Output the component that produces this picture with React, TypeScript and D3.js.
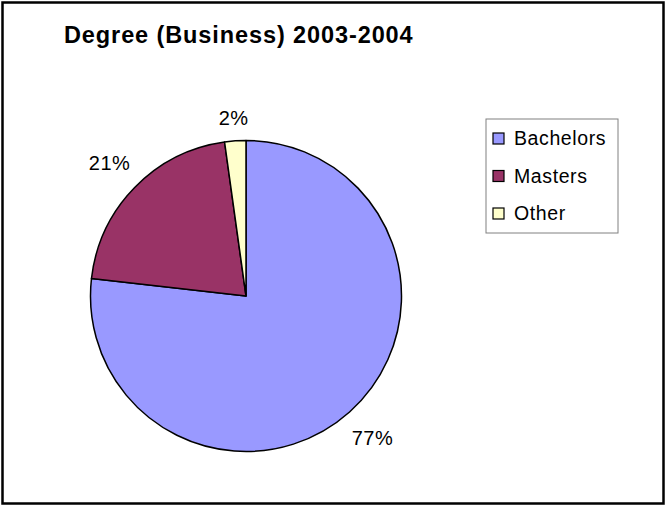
import React from "react";
import * as d3 from "d3";

const categories = ["Bachelors", "Masters", "Other"];
const values = [76.8, 21.0, 2.2];
const labels = ["77%", "21%", "2%"];
const colors = ["#9999FF", "#993366", "#FFFFCC"];
const title = "Degree (Business) 2003-2004";

const W = 665;
const H = 506;

export default function App() {
  const cx = 246;
  const cy = 296;
  const r = 155.5;
  const labelFont = 20;
  const data = categories.map((c, i) => ({ name: c, value: values[i], label: labels[i], color: colors[i] }));
  const pie = d3.pie<any>().value((d) => d.value).sort(null).startAngle(0).endAngle(2 * Math.PI);
  const arcs = pie(data);
  const arc = d3.arc<any>().innerRadius(0).outerRadius(r);
  const legendX = 486;
  const legendY = 119;
  const rowH = 37.5;

  const labelPos = (a: any) => {
    const mid = (a.startAngle + a.endAngle) / 2;
    const dx = Math.sin(mid);
    const dy = -Math.cos(mid);
    const tw = a.data.label.length * labelFont * 0.72;
    const th = labelFont * 0.8;
    const ext = (tw / 2) * Math.abs(dx) + (th / 2) * Math.abs(dy);
    const d = r + 14 + ext;
    return [dx * d, dy * d];
  };

  return (
    <svg width={W} height={H} style={{ position: "absolute", left: 0, top: 0, fontFamily: "Liberation Sans, Arial, sans-serif" }}>
      <rect x={0} y={0} width={W} height={H} fill="#fff" />
      <rect x={2.5} y={2.5} width={W - 4} height={H - 5} fill="#fff" stroke="#000" strokeWidth={2.5} />
      <text x={64} y={42.5} fontSize={23.5} fontWeight="bold" letterSpacing={0.9} fill="#000">{title}</text>
      <g transform={`translate(${cx},${cy})`}>
        {arcs.map((a, i) => (
          <path key={i} d={arc(a) as string} fill={a.data.color} stroke="#000" strokeWidth={1.5} strokeLinejoin="round" />
        ))}
        {arcs.map((a, i) => {
          const [x, y] = labelPos(a);
          return (
            <text key={i} x={x} y={y + 7} fontSize={labelFont} letterSpacing={0.5} textAnchor="middle" fill="#000">
              {a.data.label}
            </text>
          );
        })}
      </g>
      <rect x={legendX} y={legendY} width={132} height={114} fill="#fff" stroke="#808080" strokeWidth={1} />
      {data.map((d, i) => (
        <g key={i} transform={`translate(${legendX + 7},${legendY + 14 + i * rowH})`}>
          <rect x={0} y={0} width={11} height={11} fill={d.color} stroke="#000" strokeWidth={1.2} />
          <text x={21} y={12} fontSize={19.5} letterSpacing={0.6} fill="#000">{d.name}</text>
        </g>
      ))}
    </svg>
  );
}
